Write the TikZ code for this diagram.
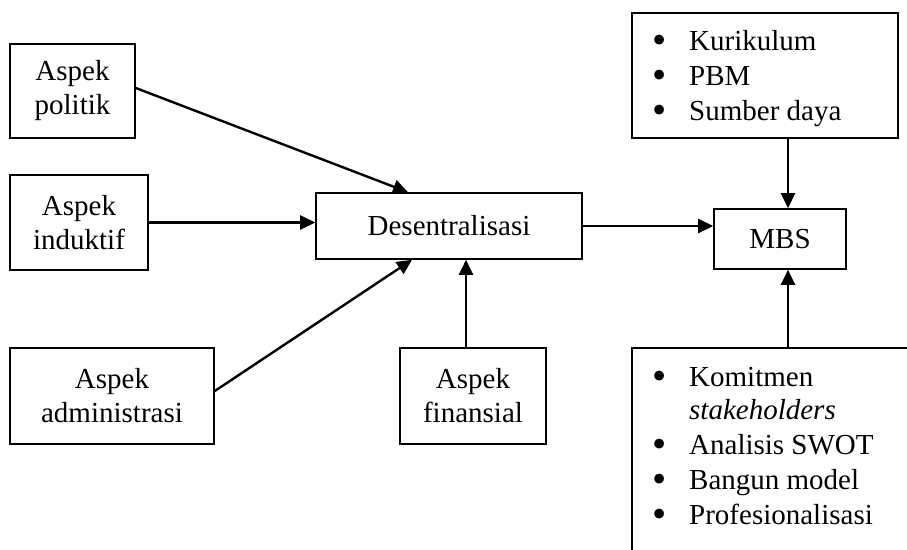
\documentclass[tikz,border=0pt]{standalone}
\usepackage{fontspec}
\setmainfont{Liberation Serif}
\usetikzlibrary{arrows.meta,calc}
\newcommand{\blt}{\makebox[37pt][l]{\smash{\raisebox{-0.12em}{\scalebox{1.4}{•}}}}}
\newcommand{\nblt}{\makebox[37pt][l]{}}
\tikzset{
  box/.style={draw=black, line width=1.6pt, inner sep=0pt, align=center,
    font=\fontsize{29}{34}\selectfont},
  conn/.style={line width=2.4pt, -{Triangle[length=15pt,width=14pt]}},
  listtext/.style={inner sep=0pt, align=left, anchor=base west,
    font=\fontsize{29}{35}\selectfont}
}
\begin{document}
\begin{tikzpicture}[x=1pt,y=-1pt]
\useasboundingbox (0,0) rectangle (907,549);
\clip (0,0) rectangle (907,549);
\fill[white] (0,0) rectangle (907,549);
% boxes
\node[box, minimum width=125pt, minimum height=94pt] (pol) at (72.5,91) {Aspek\\politik};
\node[box, minimum width=138pt, minimum height=95pt] (ind) at (79,222.5) {Aspek\\induktif};
\node[box, minimum width=204pt, minimum height=96pt] (adm) at (112,396) {Aspek\\administrasi};
\node[box, minimum width=266pt, minimum height=66pt] (des) at (449,226) {Desentralisasi};
\node[box, minimum width=146pt, minimum height=96pt] (fin) at (473,396) {Aspek\\finansial};
\node[box, minimum width=132pt, minimum height=60pt] (mbs) at (780,239) {MBS};
\node[box, minimum width=266pt, minimum height=125pt] (top) at (765,75.5) {};
\node[box, minimum width=300pt, minimum height=240pt] (bot) at (782,468) {};
% list texts
\node[listtext] (toplist) at (652,120) {%
  \blt Kurikulum\\
  \blt PBM\\
  \blt Sumber daya};
\node[listtext] (botlist) at (652,524) {%
  \blt Komitmen\\[-2pt]
  \nblt\textit{stakeholders}\\
  \blt Analisis SWOT\\
  \blt Bangun model\\
  \blt Profesionalisasi};
% connectors
\draw[conn] ([yshift=3pt]pol.east) -- ([xshift=-41pt]des.north);
\draw[conn] (ind.east) -- (ind.east -| des.west);
\draw[conn] ([yshift=5pt]adm.east) -- ([xshift=-37pt]des.south);
\draw[conn] ([xshift=-7pt]fin.north) -- ([xshift=-7pt]fin.north |- des.south);
\draw[conn] (des.east) -- (des.east -| mbs.west);
\draw[conn] ([xshift=8pt]mbs.north |- top.south) -- ([xshift=8pt]mbs.north);
\draw[conn] ([xshift=8pt]mbs.south |- bot.north) -- ([xshift=8pt]mbs.south);
\end{tikzpicture}
\end{document}
